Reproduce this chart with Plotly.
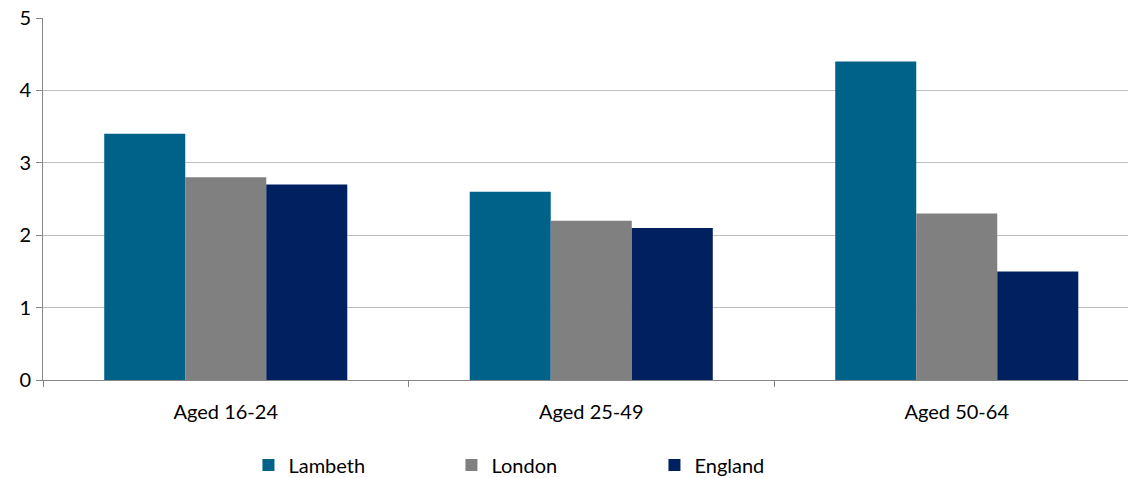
import plotly.graph_objects as go

categories = ["Aged 16-24", "Aged 25-49", "Aged 50-64"]
lambeth = [3.4, 2.6, 4.4]
london = [2.8, 2.2, 2.3]
england = [2.7, 2.1, 1.5]

series = [
    ("Lambeth", lambeth, "#006288"),
    ("London", london, "#808080"),
    ("England", england, "#002060"),
]

fig = go.Figure()
for name, vals, color in series:
    fig.add_trace(go.Bar(
        x=categories, y=vals, name=name,
        marker=dict(color=color, line=dict(width=0)),
    ))

font = dict(family="Lato, 'Open Sans', sans-serif", size=20, color="#000000")

fig.update_layout(
    width=1128, height=478,
    margin=dict(l=43, r=0, t=18, b=98, autoexpand=False),
    paper_bgcolor="white", plot_bgcolor="white",
    barmode="group", bargap=0.335, bargroupgap=0,
    font=font,
    showlegend=True,
    legend=dict(
        orientation="h", x=0.47, xanchor="center",
        yref="container", y=0.027, yanchor="middle",
        entrywidth=158, entrywidthmode="pixels",
        font=font, itemwidth=30,
        traceorder="normal",
    ),
    xaxis=dict(
        range=[-0.5, 2.4685],
        showline=True, linecolor="#868686", linewidth=1,
        ticks="outside", tickson="boundaries", ticklen=6, tickcolor="#868686",
        showgrid=False, tickfont=font,
        ticklabelstandoff=14,
    ),
    yaxis=dict(
        range=[0, 5], dtick=1,
        showline=True, linecolor="#868686", linewidth=1,
        ticks="outside", ticklen=6, tickcolor="#868686",
        showgrid=True, gridcolor="#c0c0c0", gridwidth=1,
        zeroline=False, tickfont=font,
        ticklabelstandoff=1,
    ),
)

fig.write_html("out.html")
